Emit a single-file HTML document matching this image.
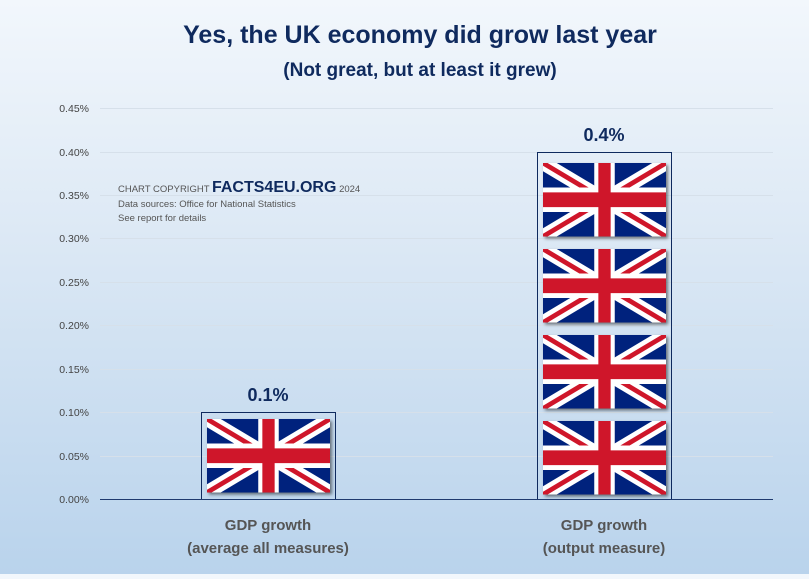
<!DOCTYPE html>
<html><head><meta charset="utf-8"><style>
html,body{margin:0;padding:0}
body{width:809px;height:574px;overflow:hidden;background:linear-gradient(#f2f7fc 0%,#dde9f5 40%,#b9d3ec 100%);font-family:"Liberation Sans",sans-serif}
</style></head><body>
<svg width="809" height="574" xmlns="http://www.w3.org/2000/svg">
<defs>
<clipPath id="fc"><rect width="60" height="30"/></clipPath>
<g id="flag">
 <g clip-path="url(#fc)">
 <rect width="60" height="30" fill="#00247d"/>
 <path d="M0,0 L60,30 M60,0 L0,30" stroke="#fff" stroke-width="6"/>
 <path d="M0,0 L30,15 M60,0 L30,15 M0,30 L30,15 M60,30 L30,15" stroke="#cf142b" stroke-width="2"/>
 <path d="M30,0 V30 M0,15 H60" stroke="#fff" stroke-width="10"/>
 <path d="M30,0 V30 M0,15 H60" stroke="#cf142b" stroke-width="6"/>
 </g>
</g>
<filter id="sh" x="-10%" y="-10%" width="130%" height="130%"><feDropShadow dx="2" dy="2" stdDeviation="1.5" flood-color="#000" flood-opacity="0.5"/></filter>
</defs>
<text x="420" y="43" text-anchor="middle" font-size="25" font-weight="bold" fill="#0f2a5e">Yes, the UK economy did grow last year</text>
<text x="420" y="76" text-anchor="middle" font-size="19" font-weight="bold" fill="#0f2a5e">(Not great, but at least it grew)</text>
<g stroke="#d6e0ea" stroke-width="1">
<line x1="100" x2="773" y1="108.5" y2="108.5"/><line x1="100" x2="773" y1="152.5" y2="152.5"/>
<line x1="100" x2="773" y1="195.5" y2="195.5"/><line x1="100" x2="773" y1="238.5" y2="238.5"/>
<line x1="100" x2="773" y1="282.5" y2="282.5"/><line x1="100" x2="773" y1="325.5" y2="325.5"/>
<line x1="100" x2="773" y1="369.5" y2="369.5"/><line x1="100" x2="773" y1="412.5" y2="412.5"/>
<line x1="100" x2="773" y1="456.5" y2="456.5"/>
</g>
<g font-size="10.5" fill="#444" text-anchor="end">
<text x="89" y="112">0.45%</text><text x="89" y="156">0.40%</text><text x="89" y="199">0.35%</text>
<text x="89" y="242">0.30%</text><text x="89" y="286">0.25%</text><text x="89" y="329">0.20%</text>
<text x="89" y="373">0.15%</text><text x="89" y="416">0.10%</text><text x="89" y="460">0.05%</text>
<text x="89" y="503">0.00%</text>
</g>
<text x="118" y="192" font-size="9.5" fill="#555">CHART COPYRIGHT <tspan font-size="16" font-weight="bold" fill="#0f2a5e">FACTS4EU.ORG</tspan> 2024</text>
<text x="118" y="207" font-size="9.5" fill="#555">Data sources: Office for National Statistics</text>
<text x="118" y="221" font-size="9.5" fill="#555">See report for details</text>
<rect x="201.5" y="412.5" width="134" height="87" fill="none" stroke="#0f2a5e" stroke-width="1"/>
<rect x="537.5" y="152.5" width="134" height="347" fill="none" stroke="#0f2a5e" stroke-width="1"/>
<g filter="url(#sh)">
<use href="#flag" transform="translate(207,419) scale(2.05,2.45)"/>
<use href="#flag" transform="translate(543,163) scale(2.05,2.45)"/>
<use href="#flag" transform="translate(543,249) scale(2.05,2.45)"/>
<use href="#flag" transform="translate(543,335) scale(2.05,2.45)"/>
<use href="#flag" transform="translate(543,421) scale(2.05,2.45)"/>
</g>
<line x1="100" x2="773" y1="499.5" y2="499.5" stroke="#1f3a6e" stroke-width="1"/>
<text x="268" y="401" text-anchor="middle" font-size="18" font-weight="bold" fill="#0f2a5e">0.1%</text>
<text x="604" y="141" text-anchor="middle" font-size="18" font-weight="bold" fill="#0f2a5e">0.4%</text>
<g font-size="15" font-weight="bold" fill="#555" text-anchor="middle">
<text x="268" y="530">GDP growth</text><text x="268" y="553">(average all measures)</text>
<text x="604" y="530">GDP growth</text><text x="604" y="553">(output measure)</text>
</g>
</svg>
</body></html>
